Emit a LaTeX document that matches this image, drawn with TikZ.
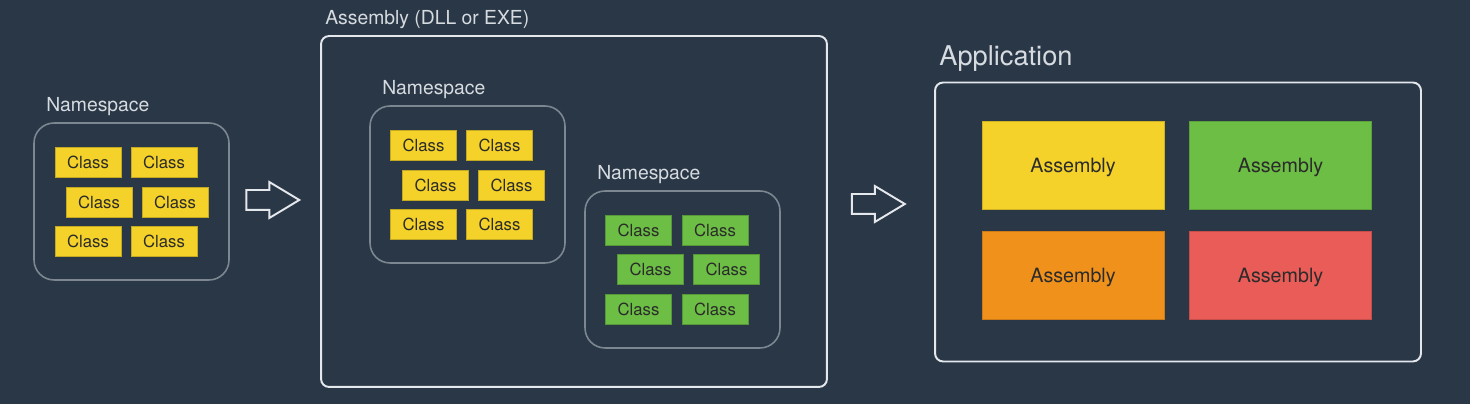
\documentclass[tikz,border=0pt]{standalone}
\usepackage{fontspec}
\setmainfont{TeX Gyre Heros}
\usepackage{xcolor}
\usepackage{tikz}
\usetikzlibrary{shapes.arrows}

\definecolor{bgslate}{HTML}{2A3747}
\definecolor{nsgray}{HTML}{7D8792}
\definecolor{framewhite}{HTML}{E4E8EC}
\definecolor{labelgray}{HTML}{D6DBE0}
\definecolor{classyellow}{HTML}{F4D22A}
\definecolor{classgreen}{HTML}{6CBE45}
\definecolor{asmorange}{HTML}{F0911C}
\definecolor{asmred}{HTML}{E95C57}
\definecolor{textdark}{HTML}{2B2B2B}

\tikzset{
	labeltext/.style={anchor=west, inner sep=0, text=labelgray, font=\fontsize{11}{13}\selectfont},
	nsbox/.style={draw=nsgray, line width=0.9pt, rounded corners=0.4cm, minimum width=3.9cm, minimum height=3.14cm},
	classbox/.style={fill=#1, draw=#1!80!black, line width=0.3pt, minimum width=1.32cm, minimum height=0.6cm, inner sep=0, text=textdark, font=\fontsize{9.5}{11}\selectfont},
	asmbox/.style={fill=#1, draw=#1!85!black, line width=0.3pt, minimum width=3.64cm, minimum height=1.76cm, inner sep=0, text=textdark, text depth=0pt, font=\fontsize{11.2}{13}\selectfont},
	bigframe/.style={draw=framewhite, line width=1.1pt, rounded corners=0.16cm},
	hollowarrow/.style={single arrow, draw=framewhite, fill=bgslate, line width=1.1pt, inner sep=0.18cm, minimum height=1.06cm, minimum width=0.68cm, single arrow head extend=0.16cm, single arrow tip angle=62}
}

\begin{document}
\begin{tikzpicture}[x=0.02cm, y=-0.02cm]
	%Background
	\fill[bgslate] (0, 0) rectangle (1470, 404);
	\useasboundingbox (0, 0) rectangle (1470, 404);

	%Namespace on its own
	\node[labeltext] (nsonelabel) at (46, 107) {Namespace};
	\node[nsbox] (nsone) at (131.5, 201.5) {};
	\node[classbox=classyellow] (ca1) at (88, 162.5) {Class};
	\node[classbox=classyellow] (ca2) at (164, 162.5) {Class};
	\node[classbox=classyellow] (ca3) at (99, 202) {Class};
	\node[classbox=classyellow] (ca4) at (175, 202) {Class};
	\node[classbox=classyellow] (ca5) at (88, 241) {Class};
	\node[classbox=classyellow] (ca6) at (164, 241) {Class};

	%Arrow
	\node[hollowarrow] (arrowone) at (264.5, 200) {};

	%Assembly
	\node[labeltext] (asmlabel) at (325, 20) {Assembly (DLL or EXE)};
	\node[bigframe, minimum width=10.12cm, minimum height=7.02cm] (assembly) at (574, 211.5) {};

	%Namespace 1 in assembly
	\node[labeltext] (nstwolabel) at (382, 90) {Namespace};
	\node[nsbox] (nstwo) at (467.5, 184.5) {};
	\node[classbox=classyellow] (cb1) at (423.5, 145.5) {Class};
	\node[classbox=classyellow] (cb2) at (499.5, 145.5) {Class};
	\node[classbox=classyellow] (cb3) at (435.5, 185) {Class};
	\node[classbox=classyellow] (cb4) at (511.5, 185) {Class};
	\node[classbox=classyellow] (cb5) at (423.5, 224) {Class};
	\node[classbox=classyellow] (cb6) at (499.5, 224) {Class};

	%Namespace 2 in assembly
	\node[labeltext] (nsthreelabel) at (597, 175) {Namespace};
	\node[nsbox] (nsthree) at (682.5, 269.5) {};
	\node[classbox=classgreen] (cc1) at (638.5, 230) {Class};
	\node[classbox=classgreen] (cc2) at (715, 230) {Class};
	\node[classbox=classgreen] (cc3) at (650.5, 269) {Class};
	\node[classbox=classgreen] (cc4) at (726.5, 269) {Class};
	\node[classbox=classgreen] (cc5) at (638.5, 309) {Class};
	\node[classbox=classgreen] (cc6) at (715, 309) {Class};

	%Arrow
	\node[hollowarrow] (arrowtwo) at (870, 204) {};

	%Application
	\node[labeltext, font=\fontsize{15.5}{18}\selectfont] (applabel) at (939, 59) {Application};
	\node[bigframe, minimum width=9.72cm, minimum height=5.58cm] (application) at (1178, 222) {};
	\node[asmbox=classyellow] (asm1) at (1073, 165) {Assembly};
	\node[asmbox=classgreen] (asm2) at (1280.5, 165) {Assembly};
	\node[asmbox=asmorange] (asm3) at (1073, 275) {Assembly};
	\node[asmbox=asmred] (asm4) at (1280.5, 275) {Assembly};
\end{tikzpicture}
\end{document}
